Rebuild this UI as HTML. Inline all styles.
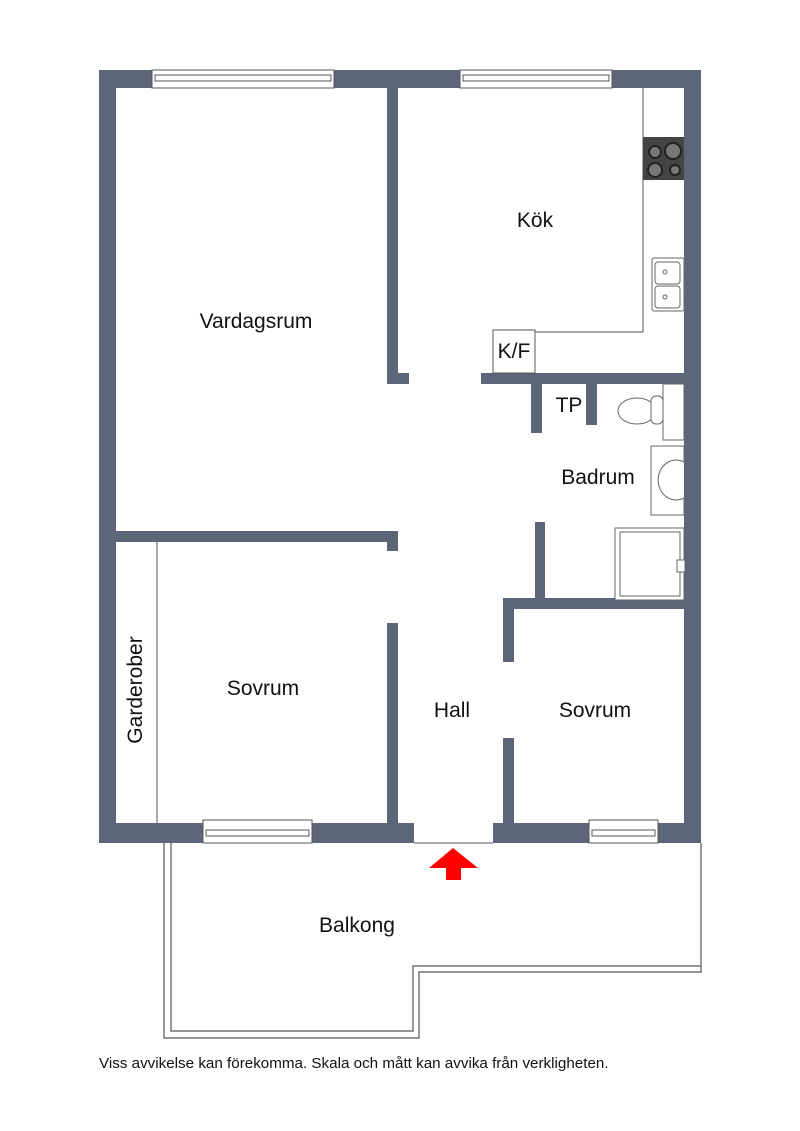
<!DOCTYPE html>
<html><head><meta charset="utf-8"><style>
html,body{margin:0;padding:0;background:#fff;}
svg{display:block;}
text{font-family:"Liberation Sans",Arial,sans-serif;fill:#111;}
</style></head><body>
<svg width="800" height="1131" viewBox="0 0 800 1131" xmlns="http://www.w3.org/2000/svg">
<g fill="#5d6678">
<rect x="99" y="70" width="602" height="18"/>
<rect x="99" y="70" width="17" height="773"/>
<rect x="684" y="70" width="17" height="773"/>
<rect x="99" y="823" width="315" height="20"/>
<rect x="493" y="823" width="208" height="20"/>
<rect x="387" y="88" width="11" height="296"/>
<rect x="387" y="373" width="22" height="11"/>
<rect x="481" y="373" width="203" height="11"/>
<rect x="531" y="384" width="11" height="49"/>
<rect x="586" y="384" width="11" height="41"/>
<rect x="535" y="522" width="10" height="78"/>
<rect x="503" y="598" width="181" height="11"/>
<rect x="503" y="598" width="11" height="64"/>
<rect x="503" y="738" width="11" height="85"/>
<rect x="116" y="531" width="282" height="11"/>
<rect x="387" y="531" width="11" height="20"/>
<rect x="387" y="623" width="11" height="200"/>
</g>
<g fill="#fff" stroke="#555" stroke-width="1">
<rect x="152" y="70" width="182" height="18"/>
<rect x="155" y="75" width="176" height="6"/>
<rect x="460" y="70" width="152" height="18"/>
<rect x="463" y="75" width="146" height="6"/>
<rect x="203" y="820" width="109" height="23"/>
<rect x="206" y="830" width="103" height="6"/>
<rect x="589" y="820" width="69" height="23"/>
<rect x="592" y="830" width="63" height="6"/>
</g>
<line x1="414" y1="843" x2="493" y2="843" stroke="#555" stroke-width="1"/>
<g fill="none" stroke="#555" stroke-width="1">
<polyline points="643,88 643,332 535,332"/>
<rect x="493" y="330" width="42" height="43"/>
<line x1="157" y1="542" x2="157" y2="823"/>
</g>
<rect x="643" y="137" width="41" height="43" fill="#444"/>
<g fill="#777" stroke="#222" stroke-width="2">
<circle cx="655" cy="152" r="6"/><circle cx="673" cy="151" r="8"/>
<circle cx="655" cy="170" r="7"/><circle cx="675" cy="170" r="5"/>
</g>
<g fill="#fff" stroke="#666" stroke-width="1">
<rect x="652" y="258" width="32" height="53" rx="2"/>
<rect x="655" y="262" width="25" height="22" rx="3"/>
<rect x="655" y="286" width="25" height="22" rx="3"/>
<circle cx="665" cy="272" r="2"/><circle cx="665" cy="297" r="2"/>
</g>
<g fill="#fff" stroke="#666" stroke-width="1">
<rect x="663" y="384" width="21" height="56"/>
<ellipse cx="637" cy="411" rx="19" ry="13"/>
<rect x="651" y="396" width="12" height="28" rx="5"/>
<rect x="651" y="446" width="33" height="69"/>
<path d="M684,462 A18,20 0 1 0 684,498"/>
<rect x="615" y="528" width="69" height="72"/>
<rect x="620" y="532" width="60" height="64"/>
<rect x="677" y="560" width="8" height="12"/>
</g>
<g fill="none" stroke="#555" stroke-width="1.2">
<polyline points="164,843 164,1038 419,1038 419,972 701,972 701,843"/>
<polyline points="171,843 171,1031 413,1031 413,966 701,966"/>
</g>
<polygon points="453,848 478,868 461,868 461,880 446,880 446,868 429,868" fill="#f00"/>
<g font-size="21" text-anchor="middle">
<text x="256" y="328">Vardagsrum</text>
<text x="535" y="227">Kök</text>
<text x="514" y="358">K/F</text>
<text x="569" y="412">TP</text>
<text x="598" y="484">Badrum</text>
<text x="263" y="695">Sovrum</text>
<text x="452" y="717">Hall</text>
<text x="595" y="717">Sovrum</text>
<text x="357" y="932">Balkong</text>
<text x="0" y="0" transform="translate(142,690) rotate(-90)">Garderober</text>
</g>
<text x="99" y="1068" font-size="15.2">Viss avvikelse kan förekomma. Skala och mått kan avvika från verkligheten.</text>
</svg>
</body></html>
